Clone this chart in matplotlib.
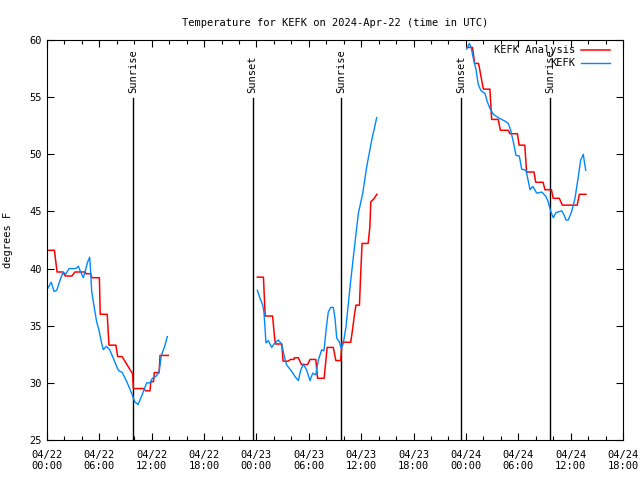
import numpy as np
import matplotlib
matplotlib.use('Agg')
import matplotlib.pyplot as plt
from matplotlib.ticker import MultipleLocator

# hours since 04/22 00:00 UTC
red_h1 = [0.1, 0.85, 1.15, 1.8, 2.1, 2.85, 3.2, 4.4, 4.45, 5.0, 5.15, 6.0, 6.1, 6.9, 7.1, 7.9, 8.1, 8.6,
          9.8, 9.9, 11.1, 11.3, 11.8, 11.9, 12.2, 12.3, 12.85, 12.95, 13.9]
red_t1 = [41.6, 41.6, 39.7, 39.7, 39.35, 39.35, 39.7, 39.7, 39.55, 39.55, 39.2, 39.2, 36.0, 36.0, 33.3, 33.3, 32.3, 32.3,
          30.8, 29.5, 29.5, 29.3, 29.3, 30.1, 30.1, 30.9, 30.9, 32.4, 32.4]
red_h2 = [24.1, 24.8, 25.0, 25.85, 26.1, 26.2, 26.9, 27.05, 27.65, 27.9, 28.3, 28.35, 28.8, 29.15, 29.85, 30.15, 30.8,
          31.0, 31.75, 32.1, 32.8, 33.1, 33.65, 33.8, 34.8, 35.0, 35.2, 35.4, 35.8, 35.95, 36.1, 36.8, 37.0, 37.1, 37.45, 37.8]
red_t2 = [39.25, 39.25, 35.85, 35.85, 33.75, 33.4, 33.4, 31.9, 31.9, 32.05, 32.05, 32.2, 32.2, 31.6, 31.6, 32.05, 32.05,
          30.4, 30.4, 33.1, 33.1, 31.95, 31.95, 33.55, 33.55, 34.6, 35.8, 36.8, 36.8, 39.6, 42.2, 42.2, 43.7, 45.85, 46.1, 46.5]
red_h3 = [48.1, 48.75, 49.0, 49.45, 50.0, 50.75, 50.95, 51.7, 51.95, 52.85, 53.05, 53.9, 54.1, 54.75, 54.95, 55.8,
          56.0, 56.85, 57.05, 57.8, 58.0, 58.7, 59.05, 60.75, 61.0, 61.75]
red_t3 = [59.35, 59.35, 57.95, 57.95, 55.7, 55.7, 53.05, 53.05, 52.1, 52.1, 51.8, 51.8, 50.8, 50.8, 48.45, 48.45,
          47.55, 47.55, 46.9, 46.9, 46.15, 46.15, 45.55, 45.55, 46.5, 46.5]

blue_h1 = [0.11, 0.49, 0.8, 1.11, 1.57, 1.87, 2.14, 2.52, 3.29, 3.59, 3.86, 4.16, 4.32, 4.62, 4.89, 5.01, 5.12, 5.39,
           5.69, 5.96, 6.22, 6.45, 6.8, 7.18, 7.68, 8.17, 8.63, 9.2, 9.66, 10.05, 10.43, 10.92, 11.42, 11.8, 12.07,
           12.46, 12.83, 13.1, 13.49, 13.78]
blue_t1 = [38.3, 38.8, 38.0, 38.1, 39.15, 39.7, 39.5, 40.0, 40.0, 40.2, 39.7, 39.2, 39.6, 40.5, 41.0, 39.6, 38.0, 36.7,
           35.35, 34.6, 33.6, 32.9, 33.2, 32.9, 32.0, 31.1, 30.9, 30.0, 29.15, 28.35, 28.1, 29.0, 30.0, 30.0, 30.4,
           30.55, 30.9, 32.4, 33.2, 34.05]
blue_h2 = [24.1, 24.41, 24.72, 24.87, 25.09, 25.36, 25.75, 26.01, 26.5, 26.89, 27.19, 27.47, 28.04, 28.42, 28.8, 29.07,
           29.37, 29.76, 30.14, 30.45, 30.79, 31.09, 31.48, 31.74, 31.97, 32.23, 32.51, 32.81, 33.0, 33.2, 33.49, 33.72,
           33.95, 34.26, 34.64, 35.1, 35.67, 36.18, 36.63, 37.21, 37.78]
blue_t2 = [38.1, 37.4, 36.8, 36.1, 33.5, 33.7, 33.1, 33.4, 33.75, 33.4, 32.3, 31.55, 31.0, 30.55, 30.2, 31.1,
           31.65, 31.1, 30.2, 30.85, 30.7, 32.0, 32.9, 32.8, 34.6, 36.2, 36.6, 36.6, 35.65, 33.9, 33.6, 33.0,
           33.45, 34.9, 37.8, 41.0, 44.8, 46.6, 48.9, 51.25, 53.2]
blue_h3 = [48.09, 48.39, 48.58, 48.85, 49.16, 49.42, 49.7, 50.19, 50.45, 50.76, 51.14, 51.71, 52.48, 52.86, 53.13,
           53.43, 53.74, 54.12, 54.39, 54.89, 55.04, 55.35, 55.66, 56.11, 56.69, 57.18, 57.44, 57.72, 58.01, 58.32,
           58.98, 59.24, 59.47, 59.73, 60.12, 60.5, 60.88, 61.15, 61.45, 61.57, 61.73]
blue_t3 = [59.2, 59.7, 59.4, 58.4, 57.4, 56.1, 55.6, 55.3, 54.6, 54.0, 53.5, 53.2, 52.9, 52.7, 52.1,
           51.1, 49.9, 49.85, 48.7, 48.6, 48.05, 46.9, 47.2, 46.6, 46.7, 46.3, 45.8, 45.0, 44.45, 44.9,
           45.05, 44.7, 44.25, 44.25, 45.0, 46.15, 48.05, 49.5, 50.0, 49.35, 48.6]

sun_hours = [9.85, 23.55, 33.7, 47.45, 57.65]
sun_labels = ['Sunrise', 'Sunset', 'Sunrise', 'Sunset', 'Sunrise']

tick_hours = list(range(0, 67, 6))
tick_labels = ['04/22\n00:00', '04/22\n06:00', '04/22\n12:00', '04/22\n18:00',
               '04/23\n00:00', '04/23\n06:00', '04/23\n12:00', '04/23\n18:00',
               '04/24\n00:00', '04/24\n06:00', '04/24\n12:00', '04/24\n18:00']

plt.rcParams['font.family'] = 'DejaVu Sans Mono'
plt.rcParams['font.size'] = 7.5

fig = plt.figure(figsize=(6.4, 4.8), dpi=100)
ax = fig.add_axes([47 / 640, 40 / 480, 576 / 640, 400 / 480])

for h, lab in zip(sun_hours, sun_labels):
    ax.plot([h, h], [25, 54.93], color='black', lw=1)
    ax.text(h, 55.35, lab, rotation=90, ha='center', va='bottom', fontsize=7.5)

red_kw = dict(color='#ff0000', lw=1.1)
blue_kw = dict(color='#0088ff', lw=1.0)
ax.plot(red_h1, red_t1, **red_kw, label='KEFK Analysis')
ax.plot(red_h2, red_t2, **red_kw)
ax.plot(red_h3, red_t3, **red_kw)
ax.plot(blue_h1, blue_t1, **blue_kw, label='KEFK')
ax.plot(blue_h2, blue_t2, **blue_kw)
ax.plot(blue_h3, blue_t3, **blue_kw)

ax.set_xlim(0, 66)
ax.set_ylim(25, 60)
ax.set_xticks(tick_hours)
ax.set_xticklabels(tick_labels)
ax.xaxis.set_minor_locator(MultipleLocator(2))
ax.yaxis.set_major_locator(MultipleLocator(5))
ax.tick_params(which='both', direction='in', top=True, right=True, width=0.8)
ax.tick_params(which='major', length=5)
ax.tick_params(which='minor', length=3)
ax.tick_params(axis='x', pad=7)
ax.set_ylabel('degrees F', labelpad=12)
ax.set_title('Temperature for KEFK on 2024-Apr-22 (time in UTC)', fontsize=7.5, pad=10)

leg = ax.legend(loc='upper right', bbox_to_anchor=(0.984, 0.997), frameon=False, markerfirst=False,
                handlelength=2.7, borderaxespad=0, labelspacing=0.3, handletextpad=0.6)
for t in leg.get_texts():
    t.set_ha('right')

fig.savefig('out.png', dpi=100)
